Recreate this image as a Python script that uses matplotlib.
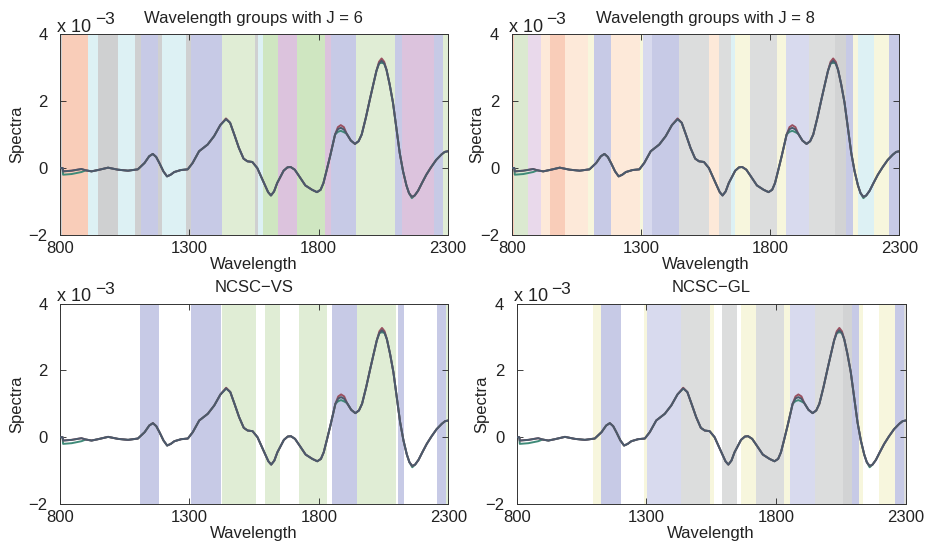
import matplotlib.pyplot as plt

plt.rcParams['font.family'] = ['Liberation Sans', 'DejaVu Sans']

# spectra (units of 1e-3)
wl = [800, 810, 812, 845, 883, 900, 922, 947, 986, 1024, 1063, 1101, 1127, 1145,
      1159, 1172, 1185, 1200, 1214, 1228, 1242, 1268, 1294, 1313, 1338, 1371,
      1396, 1420, 1442, 1458, 1475, 1492, 1510, 1525, 1544, 1563, 1588, 1605,
      1616, 1628, 1640, 1665, 1680, 1692, 1708, 1723, 1749, 1775, 1794, 1808,
      1819, 1832, 1845, 1864, 1875, 1886, 1898, 1909, 1925, 1941, 1955, 1967,
      1983, 1999, 2012, 2024, 2034, 2044, 2054, 2063, 2075, 2088, 2101, 2114,
      2127, 2140, 2150, 2161, 2172, 2185, 2200, 2217, 2235, 2255, 2275, 2288, 2300]
spec = [0.0, 0.0, -0.1, -0.08, -0.03, -0.07, -0.1, -0.06, 0.01, -0.05, -0.08, -0.04,
        0.15, 0.35, 0.42, 0.33, 0.14, -0.1, -0.25, -0.2, -0.12, -0.06, -0.04, 0.15,
        0.5, 0.7, 0.95, 1.28, 1.46, 1.35, 0.98, 0.6, 0.28, 0.2, 0.18, 0.0, -0.43,
        -0.72, -0.82, -0.7, -0.45, -0.08, 0.02, 0.03, -0.05, -0.22, -0.52, -0.65,
        -0.72, -0.65, -0.45, -0.05, 0.36, 1.0, 1.16, 1.2, 1.15, 1.02, 0.82, 0.72,
        0.8, 1.0, 1.5, 2.06, 2.5, 2.9, 3.12, 3.2, 3.12, 2.93, 2.5, 1.95, 1.2, 0.45,
        -0.1, -0.52, -0.75, -0.86, -0.82, -0.68, -0.45, -0.2, 0.02, 0.24, 0.4, 0.48, 0.5]
# where the upper / lower spectra leave the main one
upper_at = {1442: 1.48, 1875: 1.22, 1886: 1.28, 1898: 1.22, 2034: 3.17, 2044: 3.27, 2054: 3.17}
lower_at = {812: -0.2, 845: -0.18, 883: -0.12, 1875: 1.08, 1886: 1.11, 1898: 1.07,
            2044: 3.14, 2161: -0.9}

# wavelength groups per panel: start, end, colour group
j6_start = [800, 806, 909, 946, 1023, 1090, 1113, 1180, 1193, 1287, 1306, 1425, 1554,
            1567, 1586, 1644, 1715, 1824, 1848, 1944, 2095, 2121, 2247, 2282]
j6_end = [806, 909, 946, 1023, 1090, 1113, 1180, 1193, 1287, 1306, 1425, 1554, 1567,
          1586, 1644, 1715, 1824, 1848, 1944, 2095, 2121, 2247, 2282, 2300]
j6_group = ['gray', 'salmon', 'cyan', 'gray', 'cyan', 'gray', 'blue', 'gray', 'cyan',
            'gray', 'blue', 'lgreen', 'gray', 'cyan', 'green', 'purple', 'green',
            'purple', 'blue', 'lgreen', 'blue', 'purple', 'blue', 'lgreen']

j8_start = [800, 810, 864, 914, 950, 1005, 1097, 1120, 1185, 1297, 1310, 1342, 1446,
            1562, 1601, 1650, 1666, 1724, 1828, 1860, 1951, 2050, 2093, 2119, 2141,
            2203, 2261]
j8_end = [810, 864, 914, 950, 1005, 1097, 1120, 1185, 1297, 1310, 1342, 1446, 1562,
          1601, 1650, 1666, 1724, 1828, 1860, 1951, 2050, 2093, 2119, 2141, 2203,
          2261, 2300]
j8_group = ['salmon', 'green8', 'pink', 'peach', 'salmon', 'peach', 'yellow', 'blue',
            'peach', 'yellow', 'lavender', 'blue', 'lgray', 'peach', 'lgray', 'cyan',
            'yellow', 'lgray', 'yellow', 'lavender', 'lgray', 'gray2', 'blue',
            'yellow', 'cyan', 'yellow', 'blue']

vs_start = [1109, 1306, 1426, 1592, 1724, 1851, 1949, 2104, 2257, 2290]
vs_end = [1181, 1423, 1559, 1650, 1832, 1949, 2100, 2130, 2290, 2300]
vs_group = ['blue', 'blue', 'lgreen', 'lgreen', 'lgreen', 'blue', 'lgreen', 'blue',
            'blue', 'lgreen']

gl_start = [1096, 1124, 1292, 1304, 1432, 1545, 1590, 1665, 1724, 1831, 1855, 1950,
            2060, 2092, 2120, 2197, 2259, 2292]
gl_end = [1124, 1202, 1304, 1432, 1545, 1562, 1648, 1724, 1831, 1855, 1950, 2060,
          2092, 2120, 2136, 2259, 2292, 2300]
gl_group = ['yellow', 'blue', 'yellow', 'lavender', 'lgray', 'yellow', 'lgray', 'yellow',
            'lgray', 'yellow', 'lavender', 'lgray', 'gray2', 'blue', 'yellow', 'yellow',
            'blue', 'lgray']

titles = ['Wavelength groups with J = 6', 'Wavelength groups with J = 8',
          'NCSC\u2212VS', 'NCSC\u2212GL']

colors = {'salmon': '#f9cdb9', 'cyan': '#ddf1f4', 'gray': '#cfd0d1', 'blue': '#c7cae6',
          'lgreen': '#e0edd5', 'green': '#cfe6c1', 'purple': '#dcc3dd',
          'green8': '#dbe9d0', 'pink': '#e9d9eb', 'peach': '#fde9d9',
          'yellow': '#f7f6dd', 'lavender': '#d8daee', 'lgray': '#dcdddd',
          'gray2': '#d2d3d4'}

fig = plt.figure(figsize=(9.3, 5.5), dpi=100)
boxes = [[0.0645, 0.5727, 0.417, 0.3655],
         [0.5502, 0.5727, 0.4168, 0.3655],
         [0.0645, 0.0836, 0.4175, 0.3645],
         [0.5556, 0.0836, 0.4183, 0.3645]]
ylab_x = [-0.092, -0.071, -0.092, -0.071]
bands = [(j6_start, j6_end, j6_group), (j8_start, j8_end, j8_group),
         (vs_start, vs_end, vs_group), (gl_start, gl_end, gl_group)]

spec_hi = [upper_at.get(w, s) for w, s in zip(wl, spec)]
spec_lo = [lower_at.get(w, s) for w, s in zip(wl, spec)]

for box, (st, en, gr), title, lx in zip(boxes, bands, titles, ylab_x):
    ax = fig.add_axes(box)
    for a, b, g in zip(st, en, gr):
        ax.axvspan(a, b, color=colors[g], lw=0, zorder=0)
    ax.plot(wl, spec_lo, color='#3f8a78', lw=1.4, zorder=2)
    ax.plot(wl, spec_hi, color='#9a5060', lw=1.4, zorder=2)
    ax.plot(wl, spec, color='#4a5a6c', lw=1.4, zorder=3)
    ax.set_xlim(800, 2300)
    ax.set_ylim(-2, 4)
    ax.set_xticks([800, 1300, 1800, 2300])
    ax.set_yticks([-2, 0, 2, 4])
    ax.set_yticklabels(['\u22122', '0', '2', '4'])
    ax.tick_params(direction='in', top=True, right=True, length=4, width=0.6,
                   labelsize=12, colors='#222222')
    ax.tick_params(axis='x', pad=4)
    ax.tick_params(axis='y', pad=9)
    for sp in ax.spines.values():
        sp.set_color('#333333')
        sp.set_linewidth(0.7)
    ax.set_xlabel('Wavelength', fontsize=12, labelpad=1, color='#222222')
    ax.set_ylabel('Spectra', fontsize=12, color='#222222')
    ax.yaxis.set_label_coords(lx, 0.5)
    ax.set_title(title, fontsize=12, pad=8, color='#222222')
    # MATLAB style exponent above the y axis
    ax.annotate('x 10', (0, 1), xycoords='axes fraction', xytext=(-2, 1.5),
                textcoords='offset points', fontsize=13, ha='left', va='baseline',
                color='#222222')
    ax.annotate('\u22123', (0, 1), xycoords='axes fraction', xytext=(25, 7),
                textcoords='offset points', fontsize=12.5, ha='left', va='baseline',
                color='#222222')

fig.savefig('out.png', dpi=100)
